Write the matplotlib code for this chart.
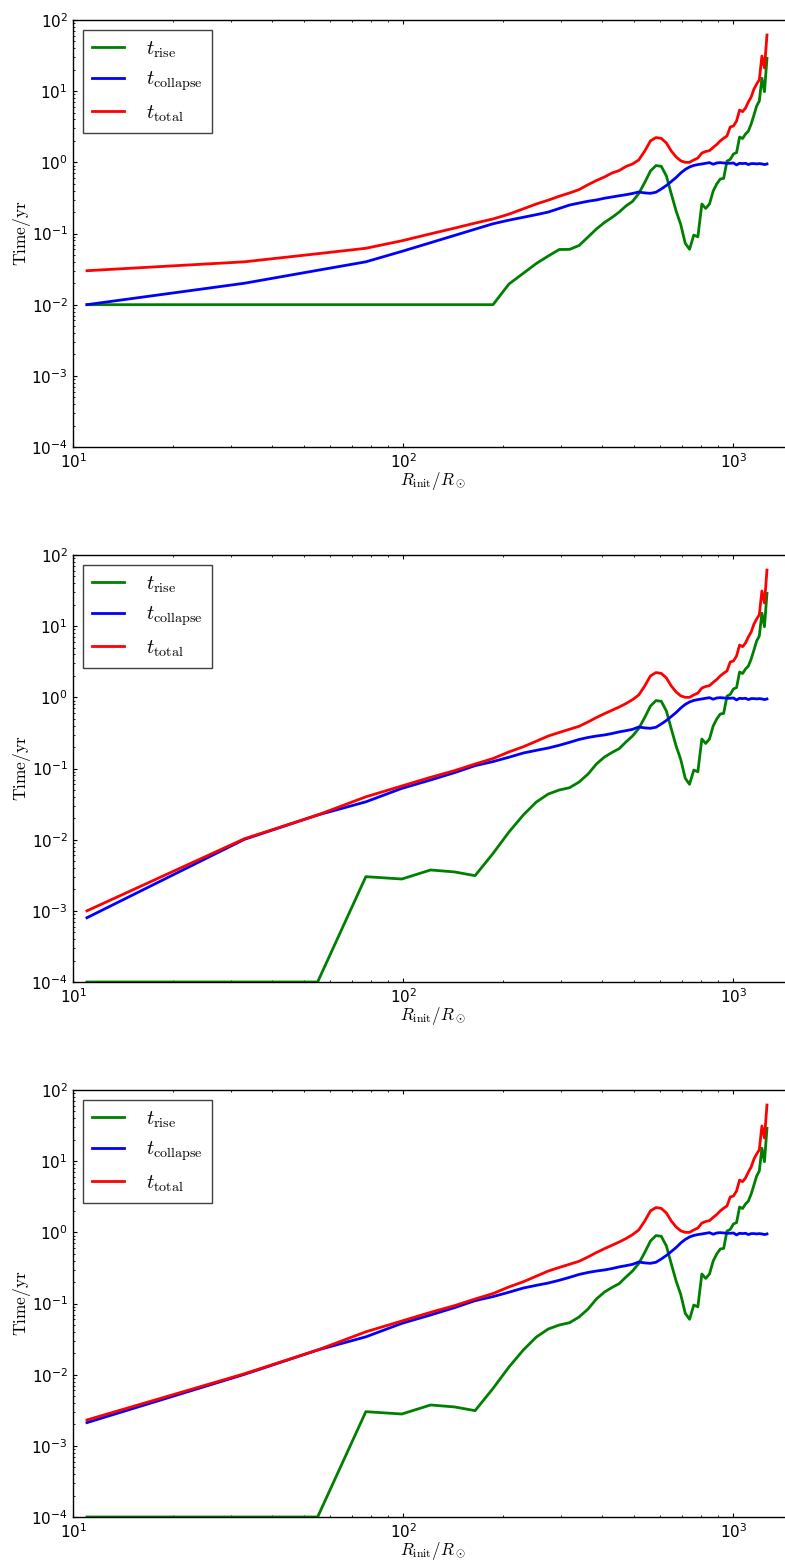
import matplotlib
matplotlib.use("Agg")
import matplotlib.pyplot as plt

# Initial stellar radius grid (R_sun)
r_init = [11, 33, 55, 77, 99, 121, 143, 165, 187, 209, 231, 253, 275, 297, 319,
          341, 363, 385, 407, 429, 451, 473, 495, 517, 539, 561, 583, 605, 627,
          649, 671, 693, 715, 737, 759, 781, 803, 825, 847, 869, 891, 913, 935,
          957, 979, 1001, 1023, 1045, 1067, 1089, 1111, 1133, 1155, 1177, 1199,
          1221, 1243, 1265]

# Timescales (yr) for R <= 495 R_sun, one list per model
rise_a = [0.01, 0.01, 0.01, 0.01, 0.01, 0.01, 0.01, 0.01, 0.01, 0.0195, 0.0276,
          0.0379, 0.0483, 0.0596, 0.0598, 0.0678, 0.0893, 0.116, 0.143, 0.168,
          0.2, 0.244, 0.282]
collapse_a = [0.01, 0.02, 0.0304, 0.04, 0.0561, 0.0743, 0.094, 0.115, 0.137,
              0.154, 0.169, 0.184, 0.2, 0.225, 0.251, 0.268, 0.284, 0.296,
              0.313, 0.326, 0.339, 0.351, 0.365]
total_a = [0.03, 0.04, 0.052, 0.062, 0.079, 0.099, 0.119, 0.140, 0.160, 0.187,
           0.222, 0.260, 0.294, 0.334, 0.371, 0.414, 0.485, 0.556, 0.622,
           0.708, 0.767, 0.875, 0.948]

rise_b = [1e-4, 1e-4, 1e-4, 0.00302, 0.0028, 0.00375, 0.00352, 0.00312,
          0.0064, 0.0128, 0.0222, 0.0338, 0.0438, 0.0499, 0.0537, 0.0646,
          0.0837, 0.116, 0.145, 0.168, 0.19, 0.236, 0.286]
collapse_b = [0.0008, 0.0101, 0.0222, 0.034, 0.0526, 0.069, 0.0875, 0.1096,
              0.125, 0.144, 0.165, 0.180, 0.194, 0.212, 0.233, 0.256, 0.273,
              0.286, 0.296, 0.31, 0.327, 0.34, 0.355]
total_b = [0.001, 0.0103, 0.0222, 0.040, 0.0568, 0.0752, 0.0933, 0.1156, 0.138,
           0.171, 0.202, 0.242, 0.286, 0.321, 0.356, 0.392, 0.451, 0.521,
           0.589, 0.658, 0.731, 0.818, 0.927]

collapse_c = [0.00212] + collapse_b[1:]
total_c = [0.00231] + total_b[1:]

# Timescales (yr) for R >= 517 R_sun, common to all models
rise_tail = [0.365, 0.521, 0.755, 0.90, 0.88, 0.643, 0.359, 0.207, 0.134, 0.073,
             0.060, 0.095, 0.09, 0.26, 0.225, 0.26, 0.395, 0.497, 0.583, 0.595,
             1.04, 1.10, 1.31, 1.37, 2.27, 2.16, 2.5, 2.75, 3.46, 4.62,
             6.19, 7.28, 15.2, 9.84, 29.0]
collapse_tail = [0.383, 0.372, 0.367, 0.38, 0.422, 0.473, 0.538, 0.612, 0.708,
                 0.794, 0.861, 0.904, 0.93, 0.948, 0.97, 0.99, 0.94, 0.98, 0.99,
                 0.98, 0.97, 0.97, 0.98, 0.92, 0.97, 0.96, 0.97, 0.93, 0.96,
                 0.96, 0.95, 0.96, 0.95, 0.93, 0.95]
total_tail = [1.08, 1.44, 2.0, 2.23, 2.17, 1.87, 1.44, 1.19, 1.05, 1.0,
              1.0, 1.08, 1.15, 1.35, 1.42, 1.46, 1.62, 1.78, 2.0, 2.18,
              2.35, 3.14, 3.24, 3.81, 5.43, 5.15, 5.8, 7.05, 8.28, 10.7,
              12.6, 14.4, 31.2, 21.2, 61.5]

panels = [
    (rise_a + rise_tail, collapse_a + collapse_tail, total_a + total_tail),
    (rise_b + rise_tail, collapse_b + collapse_tail, total_b + total_tail),
    (rise_b + rise_tail, collapse_c + collapse_tail, total_c + total_tail),
]

plt.rcParams.update({
    "font.family": ["DejaVu Sans"],
    "mathtext.fontset": "cm",
    "xtick.direction": "in",
    "ytick.direction": "in",
    "xtick.top": True,
    "ytick.right": True,
    "xtick.major.size": 3.0,
    "ytick.major.size": 3.0,
    "xtick.minor.size": 1.5,
    "ytick.minor.size": 1.5,
    "xtick.major.pad": 4,
    "ytick.major.pad": 4,
    "xtick.labelsize": 11,
    "ytick.labelsize": 11,
    "axes.linewidth": 1.0,
})

W, H = 785, 1560
fig = plt.figure(figsize=(W / 100, H / 100), dpi=100)
fig.patch.set_facecolor("white")

left = 73.3 / W
width = (791.4 - 73.3) / W
height = 427 / H
bottoms_px = [447, 982, 1517]

for (rise, collapse, total), bpx in zip(panels, bottoms_px):
    ax = fig.add_axes([left, 1 - bpx / H, width, height])
    ax.plot(r_init, rise, color="#008000", lw=2.0, label=r"$t_{\rm rise}$")
    ax.plot(r_init, collapse, color="#0000ff", lw=2.0, label=r"$t_{\rm collapse}$")
    ax.plot(r_init, total, color="#ff0000", lw=2.0, label=r"$t_{\rm total}$")
    ax.set_xscale("log")
    ax.set_yscale("log")
    ax.set_xlim(10, 1500)
    ax.set_ylim(1e-4, 1e2)
    ax.set_xlabel(r"$R_{\rm init}/R_\odot$", fontsize=12.2)
    ax.set_ylabel(r"$\mathrm{Time/yr}$", fontsize=12.5)
    ax.xaxis.set_label_coords(0.5, -0.054)
    ax.yaxis.set_label_coords(-0.056, 0.5)
    leg = ax.legend(loc="upper left", fontsize=14.5, fancybox=False,
                    framealpha=1, borderaxespad=0.5, handlelength=1.55,
                    handletextpad=1.1, borderpad=0.45, labelspacing=0.5)
    leg.get_frame().set_edgecolor("0.25")
    leg.get_frame().set_linewidth(1.0)

fig.savefig("out.png", dpi=100, facecolor="white")
